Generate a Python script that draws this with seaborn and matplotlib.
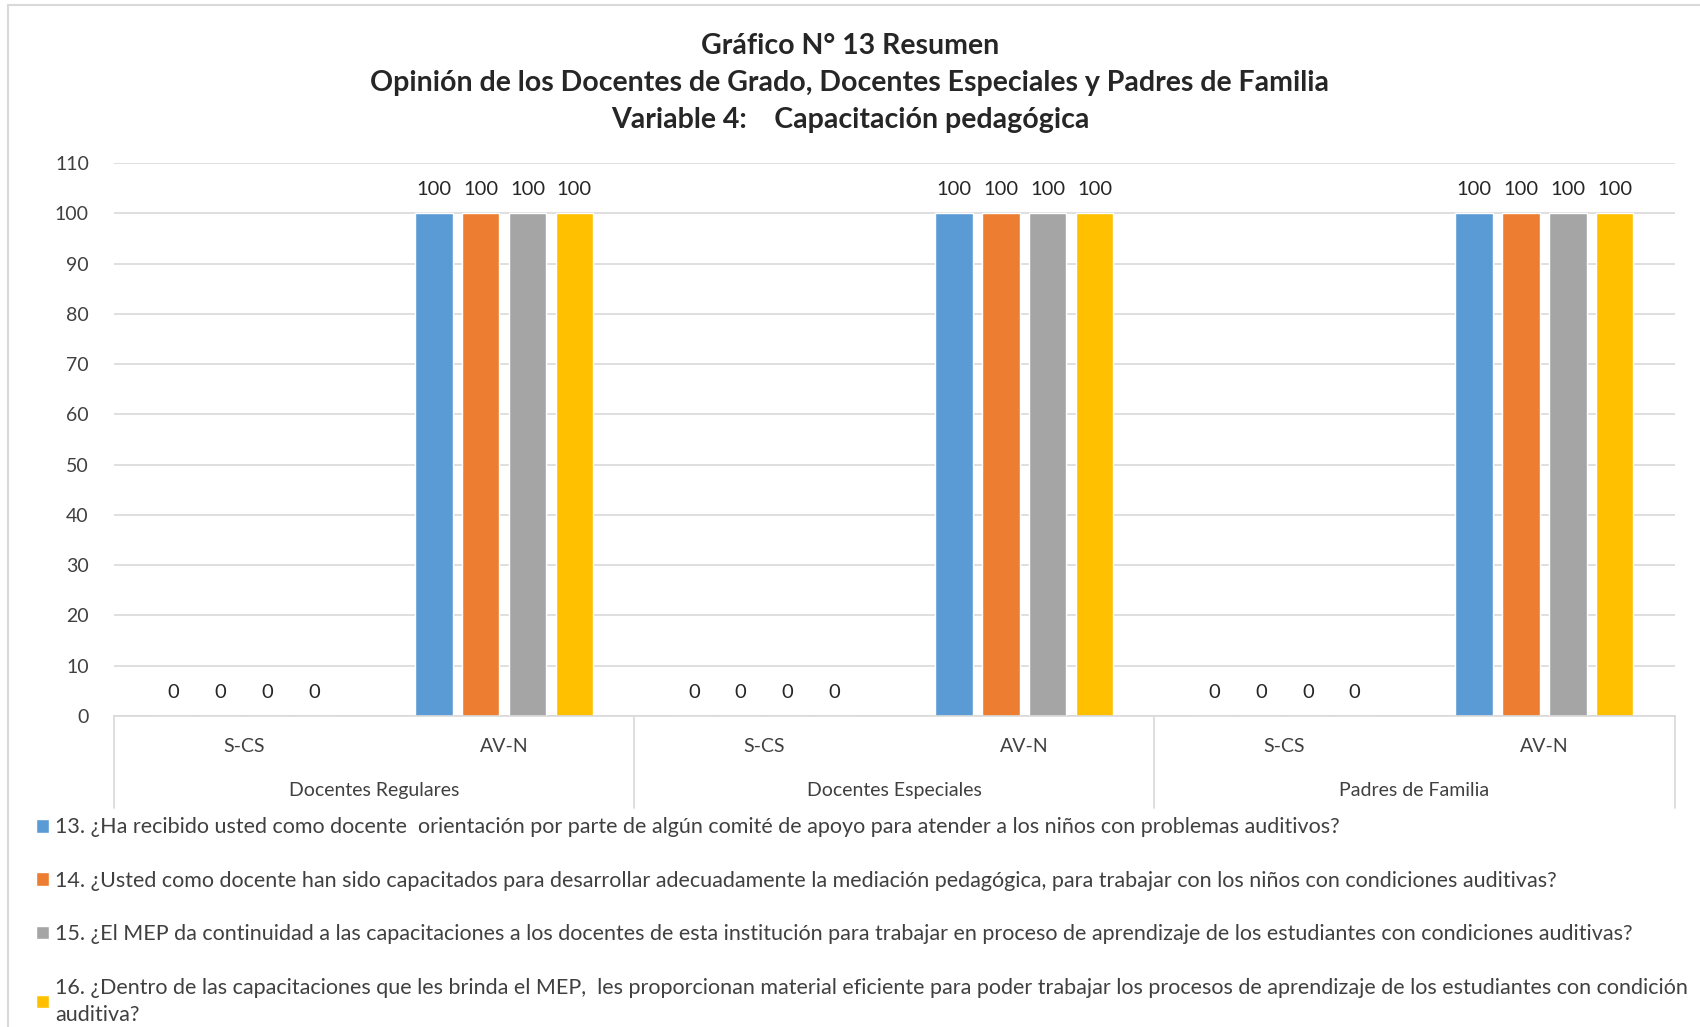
import matplotlib
matplotlib.use('Agg')
import matplotlib.pyplot as plt
import matplotlib.patches as mpatches
import matplotlib.transforms as mtransforms
import pandas as pd
import seaborn as sns

# Data
groups = ['Docentes Regulares', 'Docentes Especiales', 'Padres de Familia']
options = ['S-CS', 'AV-N']
questions = [
    '13. ¿Ha recibido usted como docente  orientación por parte de algún comité de apoyo para atender a los niños con problemas auditivos?',
    '14. ¿Usted como docente han sido capacitados para desarrollar adecuadamente la mediación pedagógica, para trabajar con los niños con condiciones auditivas?',
    '15. ¿El MEP da continuidad a las capacitaciones a los docentes de esta institución para trabajar en proceso de aprendizaje de los estudiantes con condiciones auditivas?',
    '16. ¿Dentro de las capacitaciones que les brinda el MEP,  les proporcionan material eficiente para poder trabajar los procesos de aprendizaje de los estudiantes con condición\nauditiva?',
]
# values per question, ordered group x option
q13 = [0, 100, 0, 100, 0, 100]
q14 = [0, 100, 0, 100, 0, 100]
q15 = [0, 100, 0, 100, 0, 100]
q16 = [0, 100, 0, 100, 0, 100]
colors = ['#5b9bd5', '#ed7d31', '#a5a5a5', '#ffc000']

cats = [g + '|' + o for g in groups for o in options]
rows = []
for q, vals in zip(questions, [q13, q14, q15, q16]):
    for c, v in zip(cats, vals):
        rows.append({'cat': c, 'question': q, 'value': v})
df = pd.DataFrame(rows)

sns.set_style('white')
plt.rcParams['font.family'] = ['Lato', 'DejaVu Sans']

fig = plt.figure(figsize=(17, 10.27), dpi=100)
ax = fig.add_axes([0.067, 0.3028, 0.918, 0.5385])

sns.barplot(data=df, x='cat', y='value', hue='question', order=cats,
            hue_order=questions, palette=colors, width=0.72, gap=0.2,
            saturation=1, ax=ax, legend=True)

for cont in ax.containers:
    ax.bar_label(cont, fmt='%d', padding=11, fontsize=14.5, color='#262626')

ax.set_ylim(0, 110)
ax.set_xlim(-0.5, 5.5)
ax.set_yticks(range(0, 111, 10))
ax.yaxis.grid(True, color='#d9d9d9', linewidth=1.2)
ax.set_axisbelow(True)
for s in ['top', 'right', 'left']:
    ax.spines[s].set_visible(False)
ax.spines['bottom'].set_color('#d9d9d9')
ax.spines['bottom'].set_linewidth(1.2)
ax.tick_params(axis='y', length=0, labelsize=14, labelcolor='#404040', pad=18)
ax.tick_params(axis='x', length=0, labelsize=14, labelcolor='#404040', pad=16)
ax.set_xticks(range(len(cats)))
ax.set_xticklabels([c.split('|')[1] for c in cats])
ax.set_xlabel('')
ax.set_ylabel('')

# group labels and separators under the axis
trans = mtransforms.blended_transform_factory(ax.transData, ax.transAxes)
for i, g in enumerate(groups):
    ax.text(2 * i + 0.5, -0.135, g, transform=trans, ha='center', va='center',
            fontsize=14, color='#404040')
for xb in [-0.5, 1.5, 3.5, 5.5]:
    ax.plot([xb, xb], [0, -0.167], transform=trans, color='#d9d9d9',
            linewidth=1.2, clip_on=False)

# legend
leg = ax.legend(loc='upper left', bbox_to_anchor=(0.021, 0.204),
                bbox_transform=fig.transFigure, frameon=False, fontsize=15.5,
                handlelength=0.6, handleheight=0.6, handletextpad=0.3,
                labelspacing=1.55, borderaxespad=0, borderpad=0,
                labelcolor='#404040')
for t in leg.get_texts():
    t.set_linespacing(1.45)

fig.suptitle('Gráfico N° 13 Resumen\nOpinión de los Docentes de Grado, Docentes Especiales y Padres de Familia\nVariable 4:    Capacitación pedagógica',
             y=0.968, fontsize=20.5, fontweight='bold', linespacing=1.53)

# thin chart border
fig.patches.append(mpatches.Rectangle((8 / 1700, -0.01), 1.02, 1 - 5 / 1027 + 0.01,
                                      transform=fig.transFigure, fill=False,
                                      edgecolor='#d9d9d9', linewidth=1.5))

fig.savefig('out.png', dpi=100)
